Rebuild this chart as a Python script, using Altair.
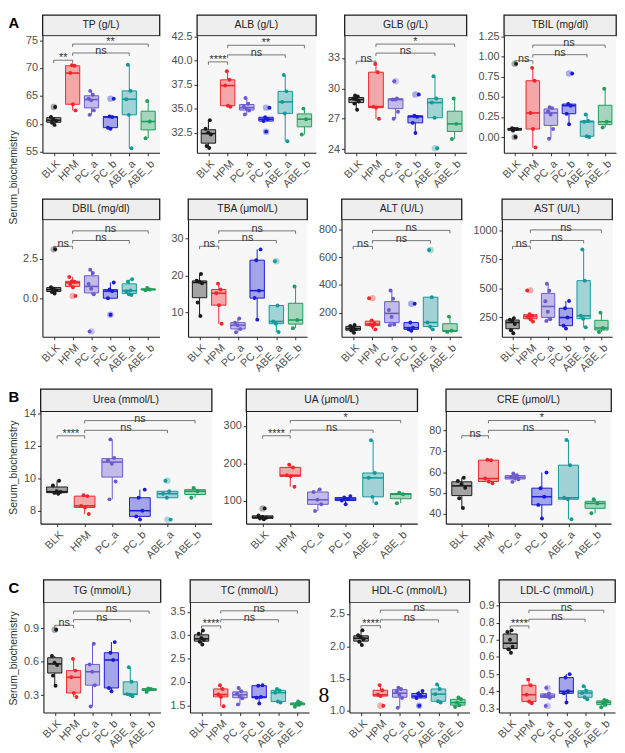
import json
import altair as alt
import pandas as pd

GROUPS = ["BLK", "HPM", "PC_a", "PC_b", "ABE_a", "ABE_b"]
COLORS = ["#1a1a1a", "#f0262b", "#6a5acd", "#1c1cd4", "#14999a", "#1f9e5c"]
COMPARE = [("BLK", "HPM"), ("HPM", "ABE_a"), ("HPM", "ABE_b")]

# ---- Panel A (upper row) ----
TP = [[59.8, 60.2, 60.5, 60.8, 61.2, 63.0], [62.4, 63.5, 69.1, 70.4, 70.5],
      [61.6, 62.4, 64.2, 64.5, 65.2, 65.9], [59.1, 59.3, 61.2, 61.3, 64.5],
      [55.6, 61.6, 64.4, 65.9, 70.6], [57.4, 60.4, 64.1]]
TP_SIG = ["**", "ns", "**"]
TP_BRACKET = [71.4, 72.7, 74.3]
TP_DOMAIN = [54.8, 75.8]
TP_TICKS = [55, 60, 65, 70, 75]

ALB = [[30.9, 31.1, 32.3, 32.5, 32.9, 33.8], [35.2, 35.3, 37.4, 38.0, 38.9],
       [34.4, 34.8, 35.0, 35.2, 35.5, 36.1], [32.6, 33.7, 33.9, 34.1, 35.1],
       [31.6, 34.5, 35.7, 36.8, 38.5], [32.3, 33.9, 35.0]]
ALB_SIG = ["****", "ns", "**"]
ALB_BRACKET = [39.87, 40.6, 41.6]
ALB_DOMAIN = [30.4, 42.6]
ALB_TICKS = [32.5, 35.0, 37.5, 40.0, 42.5]

GLB = [[27.9, 28.5, 28.7, 28.9, 29.0, 29.2, 29.3], [27.0, 28.1, 28.2, 31.6, 32.4],
       [27.0, 27.7, 28.9, 28.9, 29.0, 30.7], [25.6, 26.6, 27.2, 27.3, 29.4],
       [24.1, 27.1, 28.6, 29.0, 31.2], [25.0, 26.5, 29.0]]
GLB_SIG = ["ns", "ns", "*"]
GLB_BRACKET = [32.68, 33.48, 34.37]
GLB_DOMAIN = [23.65, 35.2]
GLB_TICKS = [24, 27, 30, 33]

TBIL = [[0.0, 0.08, 0.1, 0.1, 0.11, 0.91], [-0.13, 0.1, 0.3, 0.7, 0.86],
        [-0.02, 0.10, 0.28, 0.32, 0.36, 0.37], [0.16, 0.29, 0.39, 0.41, 0.79],
        [0.0, 0.01, 0.19, 0.2, 0.28], [0.12, 0.19, 0.6]]
TBIL_SIG = ["ns", "ns", "ns"]
TBIL_BRACKET = [0.948, 1.024, 1.143]
TBIL_DOMAIN = [-0.195, 1.26]
TBIL_TICKS = [0.0, 0.25, 0.5, 0.75, 1.0, 1.25]

# ---- Panel A (lower row) ----
DBIL = [[0.3, 0.4, 0.5, 0.6, 0.7, 3.1], [0.15, 0.7, 0.9, 1.05, 1.08, 1.35],
        [-2.1, 0.25, 0.6, 0.9, 1.6, 1.8], [-1.05, 0.0, 0.45, 0.55, 1.0],
        [0.2, 0.25, 0.45, 0.5, 1.05, 1.2], [0.5, 0.55, 0.65]]
DBIL_SIG = ["ns", "ns", "ns"]
DBIL_BRACKET = [3.29, 3.66, 4.27]
DBIL_DOMAIN = [-2.44, 4.98]
DBIL_TICKS = [0.0, 2.5]

TBA = [[9.1, 12.7, 17.9, 18.3, 18.6, 20.4], [7.0, 12.0, 15.2, 16.2, 17.8],
       [4.7, 5.6, 6.6, 7.3, 8.4], [8.1, 13.9, 15.9, 24.1, 27.0],
       [4.8, 7.0, 7.6, 11.9, 23.8], [5.8, 8.0, 17.0]]
TBA_SIG = ["ns", "ns", "ns"]
TBA_BRACKET = [27.84, 29.4, 31.98]
TBA_DOMAIN = [3.5, 35.0]
TBA_TICKS = [10, 20, 30]

ALT = [[55, 72, 80, 92, 105, 112], [80, 105, 115, 122, 145, 305],
       [110, 115, 170, 220, 300, 360], [70, 80, 92, 129, 265],
       [80, 100, 130, 312, 652], [62, 70, 172]]
ALT_SIG = ["ns", "ns", "ns"]
ALT_BRACKET = [678, 719, 793]
ALT_DOMAIN = [27, 870]
ALT_TICKS = [200, 400, 600, 800]

AST = [[115, 140, 195, 220, 232, 245], [215, 235, 255, 265, 278, 483],
       [220, 235, 300, 390, 480, 540], [155, 180, 250, 330, 392],
       [167, 240, 265, 567, 835], [126, 160, 292]]
AST_SIG = ["ns", "ns", "ns"]
AST_BRACKET = [862, 912, 1003]
AST_DOMAIN = [85, 1091]
AST_TICKS = [250, 500, 750, 1000]

# ---- Panel B ----
UREA = [[9.05, 9.1, 9.15, 9.2, 9.55, 9.85], [7.8, 8.2, 8.3, 8.9, 8.95],
        [8.7, 9.8, 10.9, 11.1, 11.25, 12.4], [7.45, 7.65, 8.0, 8.8, 9.3],
        [7.45, 8.8, 9.05, 9.2, 9.85], [8.8, 9.2, 9.4]]
UREA_SIG = ["****", "ns", "ns"]
UREA_BRACKET = [12.62, 12.96, 13.56]
UREA_DOMAIN = [7.2, 14.12]
UREA_TICKS = [8, 10, 12, 14]

UA = [[50, 52, 54, 56, 60, 79], [137, 165, 168, 189, 196],
      [72, 90, 102, 123, 130], [90, 100, 104, 108, 112],
      [93, 110, 161, 174, 262], [93, 117, 121]]
UA_SIG = ["****", "ns", "*"]
UA_BRACKET = [274, 289, 315]
UA_DOMAIN = [38, 339]
UA_TICKS = [100, 200, 300]

CRE = [[42.8, 47.5, 52.5, 54.3, 55.7, 57.3], [54.6, 55.5, 56.9, 65.7, 65.9],
       [55.3, 56.5, 57.2, 57.7, 58.5, 59.3], [37.8, 44.3, 48.2, 52.3, 59.8],
       [37.4, 47.0, 47.7, 63.3, 75.4], [40.3, 45.0, 47.0]]
CRE_SIG = ["ns", "ns", "*"]
CRE_BRACKET = [77.4, 80.0, 84.7]
CRE_DOMAIN = [35.3, 89.0]
CRE_TICKS = [40, 50, 60, 70, 80]

# ---- Panel C ----
TG = [[0.385, 0.475, 0.57, 0.59, 0.65, 0.885], [0.285, 0.32, 0.46, 0.52, 0.625],
      [0.2, 0.39, 0.51, 0.575, 0.76], [0.335, 0.365, 0.615, 0.68, 0.775],
      [0.29, 0.305, 0.31, 0.42, 0.55], [0.33, 0.355, 0.36]]
TG_SIG = ["ns", "ns", "ns"]
TG_BRACKET = [0.925, 0.976, 1.052]
TG_DOMAIN = [0.145, 1.13]
TG_TICKS = [0.3, 0.6, 0.9]

TC = [[2.8, 2.86, 2.9, 2.94, 3.03, 3.1], [1.48, 1.68, 1.73, 1.85, 1.93],
      [1.52, 1.65, 1.7, 1.75, 1.8, 1.87], [1.54, 1.66, 1.68, 1.92, 1.93],
      [1.56, 1.58, 1.77, 1.82, 1.85], [1.47, 1.51, 1.53, 1.55, 1.58]]
TC_SIG = ["****", "ns", "ns"]
TC_BRACKET = [3.197, 3.33, 3.52]
TC_DOMAIN = [1.345, 3.70]
TC_TICKS = [1.5, 2.0, 2.5, 3.0, 3.5]

HDL = [[2.02, 2.07, 2.11, 2.14, 2.17, 2.25], [1.08, 1.23, 1.25, 1.32, 1.4],
       [1.05, 1.2, 1.25, 1.3, 1.34, 1.36], [1.08, 1.2, 1.23, 1.27, 1.31],
       [1.13, 1.15, 1.26, 1.34, 1.41], [1.06, 1.09, 1.13, 1.18, 1.21]]
HDL_SIG = ["****", "ns", "ns"]
HDL_BRACKET = [2.32, 2.41, 2.56]
HDL_DOMAIN = [0.975, 2.68]
HDL_TICKS = [1.0, 1.5, 2.0, 2.5]

LDL = [[0.625, 0.645, 0.66, 0.70, 0.745, 0.755], [0.33, 0.34, 0.38, 0.435, 0.468],
       [0.315, 0.362, 0.37, 0.375, 0.388, 0.42], [0.335, 0.388, 0.4, 0.48, 0.5],
       [0.354, 0.365, 0.39, 0.403, 0.43], [0.307, 0.322, 0.335, 0.344, 0.35]]
LDL_SIG = ["****", "ns", "ns"]
LDL_BRACKET = [0.781, 0.82, 0.872]
LDL_DOMAIN = [0.276, 0.918]
LDL_TICKS = [0.3, 0.4, 0.5, 0.6, 0.7, 0.8, 0.9]

Y_TITLE = "Serum_biochemistry"
STRAY_TEXT = "8"

FONT = "Liberation Sans"
LABEL_EXPR = json.dumps(GROUPS) + "[datum.value]"
PLOT_BG = "#f7f7f7"
STRIP_BG = "#eeeeee"
BR_COLOR = "#555555"
TIP = 0.025


def make_panel(title, values, sig, brk, dom, ticks, fmt, w, h, hh, extra=None):
    df = pd.DataFrame([{"g": g, "i": k, "v": v}
                       for k, g in enumerate(GROUPS) for v in values[k]])
    span = dom[1] - dom[0]
    xs = alt.Scale(domain=[-0.6, 5.6], nice=False, zero=False)
    ys = alt.Scale(domain=dom, nice=False, zero=False)
    xax = alt.Axis(values=list(range(6)), labelExpr=LABEL_EXPR, labelAngle=-45,
                   labelAlign="right", labelBaseline="top", labelOverlap=False,
                   labelFlush=False)
    yax = alt.Axis(values=ticks, format=fmt, labelOverlap=False, labelFlush=False)

    def X(f):
        return alt.X(f"{f}:Q", scale=xs, axis=xax, title=None)

    def Y(f):
        return alt.Y(f"{f}:Q", scale=ys, axis=yax, title=None)

    cscale = alt.Scale(domain=GROUPS, range=COLORS)
    col = alt.Color("g:N", scale=cscale, legend=None)

    base = alt.Chart(df)
    stats = base.transform_joinaggregate(
        q1="q1(v)", q3="q3(v)", groupby=["g"]
    ).transform_calculate(
        lo="datum.q1 - 1.5*(datum.q3-datum.q1)",
        hi="datum.q3 + 1.5*(datum.q3-datum.q1)",
    )
    whisk = stats.transform_filter(
        "datum.v >= datum.lo && datum.v <= datum.hi"
    ).transform_aggregate(
        wmin="min(v)", wmax="max(v)", bq1="min(q1)", bq3="min(q3)", groupby=["g", "i"]
    )
    w_up = whisk.mark_rule(strokeWidth=1).encode(x=X("i"), y=Y("bq3"), y2="wmax:Q", color=col)
    w_dn = whisk.mark_rule(strokeWidth=1).encode(x=X("i"), y=Y("wmin"), y2="bq1:Q", color=col)

    boxd = base.transform_aggregate(
        q1="q1(v)", q3="q3(v)", med="median(v)", groupby=["g", "i"]
    ).transform_calculate(xa="datum.i - 0.375", xb="datum.i + 0.375")
    box = boxd.mark_rect(fillOpacity=0.38, strokeWidth=1).encode(
        x=X("xa"), x2="xb:Q", y=Y("q1"), y2="q3:Q",
        fill=alt.Fill("g:N", scale=cscale, legend=None),
        stroke=alt.Stroke("g:N", scale=cscale, legend=None),
    )
    med = boxd.mark_rule(strokeWidth=1.6).encode(x=X("xa"), x2="xb:Q", y=Y("med"), color=col)

    outl = stats.transform_filter(
        "datum.v < datum.lo || datum.v > datum.hi"
    ).mark_circle(size=42, opacity=0.35).encode(x=X("i"), y=Y("v"), color=col)

    pts = base.transform_window(
        k="row_number()", groupby=["g"]
    ).transform_calculate(
        jx="datum.i + ((datum.k*0.618034 + datum.i*0.3) % 1 - 0.5) * 0.36"
    ).mark_circle(size=16, opacity=1).encode(x=X("jx"), y=Y("v"), color=col)

    bdf = pd.DataFrame({
        "a": [GROUPS.index(c[0]) for c in COMPARE],
        "b": [GROUPS.index(c[1]) for c in COMPARE],
        "y": brk,
        "lab": sig,
    })
    bb = alt.Chart(bdf).transform_calculate(
        yt=f"datum.y - {TIP * span}", xm="(datum.a + datum.b) / 2"
    )
    hline = bb.mark_rule(color=BR_COLOR, strokeWidth=0.8).encode(x=X("a"), x2="b:Q", y=Y("y"))
    tips = bb.transform_fold(["a", "b"], as_=["end", "xe"]).mark_rule(
        color=BR_COLOR, strokeWidth=0.8
    ).encode(x=X("xe"), y=Y("y"), y2="yt:Q")
    labs = bb.mark_text(font=FONT, fontSize=11, color="#333333", baseline="alphabetic", dy=1).encode(
        x=X("xm"), y=Y("y"), text="lab:N"
    )

    layers = [w_up, w_dn, box, med, outl, pts, hline, tips, labs]
    if extra is not None:
        layers.append(
            alt.Chart(pd.DataFrame({"t": [extra]})).mark_text(
                font="Liberation Serif", fontSize=22, color="#000000"
            ).encode(text="t:N", x=alt.value(-26), y=alt.value(h - 18))
        )
    plot = alt.layer(*layers).properties(
        width=w, height=h,
        view=alt.ViewBackground(fill=PLOT_BG, stroke="transparent"),
    )
    head = alt.Chart(pd.DataFrame({"t": [title]})).mark_text(
        font=FONT, fontSize=10.5, color="#222222"
    ).encode(text="t:N").properties(
        width=w, height=hh,
        view=alt.ViewBackground(fill=STRIP_BG, stroke="#1a1a1a", strokeWidth=1.3),
    )
    return alt.vconcat(head, plot, spacing=0, bounds="flush")


def label_col(letter, ty, height):
    d = pd.DataFrame({"t": [Y_TITLE], "L": [letter]})
    c = alt.Chart(d)
    let = c.mark_text(font=FONT, fontSize=15, fontWeight="bold", color="#000000",
                      baseline="middle", align="center").encode(
        text="L:N", x=alt.value(5), y=alt.value(8))
    ttl = c.mark_text(font=FONT, fontSize=10.5, color="#333333", angle=270,
                      baseline="middle", align="center").encode(
        text="t:N", x=alt.value(5), y=alt.value(ty))
    return alt.layer(let, ttl).properties(
        width=10, height=height,
        view=alt.ViewBackground(stroke="transparent"),
    )


HA = 119
rowA1 = alt.hconcat(
    make_panel("TP (g/L)", TP, TP_SIG, TP_BRACKET, TP_DOMAIN, TP_TICKS, "d", 119, HA, 21),
    make_panel("ALB (g/L)", ALB, ALB_SIG, ALB_BRACKET, ALB_DOMAIN, ALB_TICKS, ".1f", 121, HA, 21),
    make_panel("GLB (g/L)", GLB, GLB_SIG, GLB_BRACKET, GLB_DOMAIN, GLB_TICKS, "d", 124, HA, 21),
    make_panel("TBIL (mg/dl)", TBIL, TBIL_SIG, TBIL_BRACKET, TBIL_DOMAIN, TBIL_TICKS, ".2f", 114, HA, 21),
    spacing=10,
)
rowA2 = alt.hconcat(
    make_panel("DBIL (mg/dl)", DBIL, DBIL_SIG, DBIL_BRACKET, DBIL_DOMAIN, DBIL_TICKS, ".1f", 119, HA, 21),
    make_panel("TBA (μmol/L)", TBA, TBA_SIG, TBA_BRACKET, TBA_DOMAIN, TBA_TICKS, "d", 121, HA, 21),
    make_panel("ALT (U/L)", ALT, ALT_SIG, ALT_BRACKET, ALT_DOMAIN, ALT_TICKS, "d", 122, HA, 21),
    make_panel("AST (U/L)", AST, AST_SIG, AST_BRACKET, AST_DOMAIN, AST_TICKS, "d", 112, HA, 21),
    spacing=10,
)
rowB = alt.hconcat(
    make_panel("Urea (mmol/L)", UREA, UREA_SIG, UREA_BRACKET, UREA_DOMAIN, UREA_TICKS, "d", 174, 114, 23),
    make_panel("UA (μmol/L)", UA, UA_SIG, UA_BRACKET, UA_DOMAIN, UA_TICKS, "d", 174, 114, 23),
    make_panel("CRE (μmol/L)", CRE, CRE_SIG, CRE_BRACKET, CRE_DOMAIN, CRE_TICKS, "d", 168, 114, 23),
    spacing=10,
)
rowC = alt.hconcat(
    make_panel("TG (mmol/L)", TG, TG_SIG, TG_BRACKET, TG_DOMAIN, TG_TICKS, ".1f", 119, 112, 23),
    make_panel("TC (mmol/L)", TC, TC_SIG, TC_BRACKET, TC_DOMAIN, TC_TICKS, ".1f", 121, 112, 23),
    make_panel("HDL-C (mmol/L)", HDL, HDL_SIG, HDL_BRACKET, HDL_DOMAIN, HDL_TICKS, ".1f", 122, 112, 23, extra=STRAY_TEXT),
    make_panel("LDL-C (mmol/L)", LDL, LDL_SIG, LDL_BRACKET, LDL_DOMAIN, LDL_TICKS, ".1f", 118, 112, 23),
    spacing=8,
)

blockA = alt.hconcat(label_col("A", 165, 100), alt.vconcat(rowA1, rowA2, spacing=8), spacing=2)
blockB = alt.hconcat(label_col("B", 80, 100), rowB, spacing=2)
blockC = alt.hconcat(label_col("C", 80, 100), rowC, spacing=2)

chart = alt.vconcat(
    blockA, alt.vconcat(blockB, blockC, spacing=18), spacing=14
).properties(
    padding=0
).configure(
    font=FONT
).configure_axis(
    domainColor="#1a1a1a", domainWidth=1.1, tickColor="#333333", tickSize=3,
    labelColor="#4d4d4d", labelFontSize=11, labelFont=FONT, labelPadding=2, grid=False,
)

chart.save("out.html", embed_options={"renderer": "svg", "actions": False})
